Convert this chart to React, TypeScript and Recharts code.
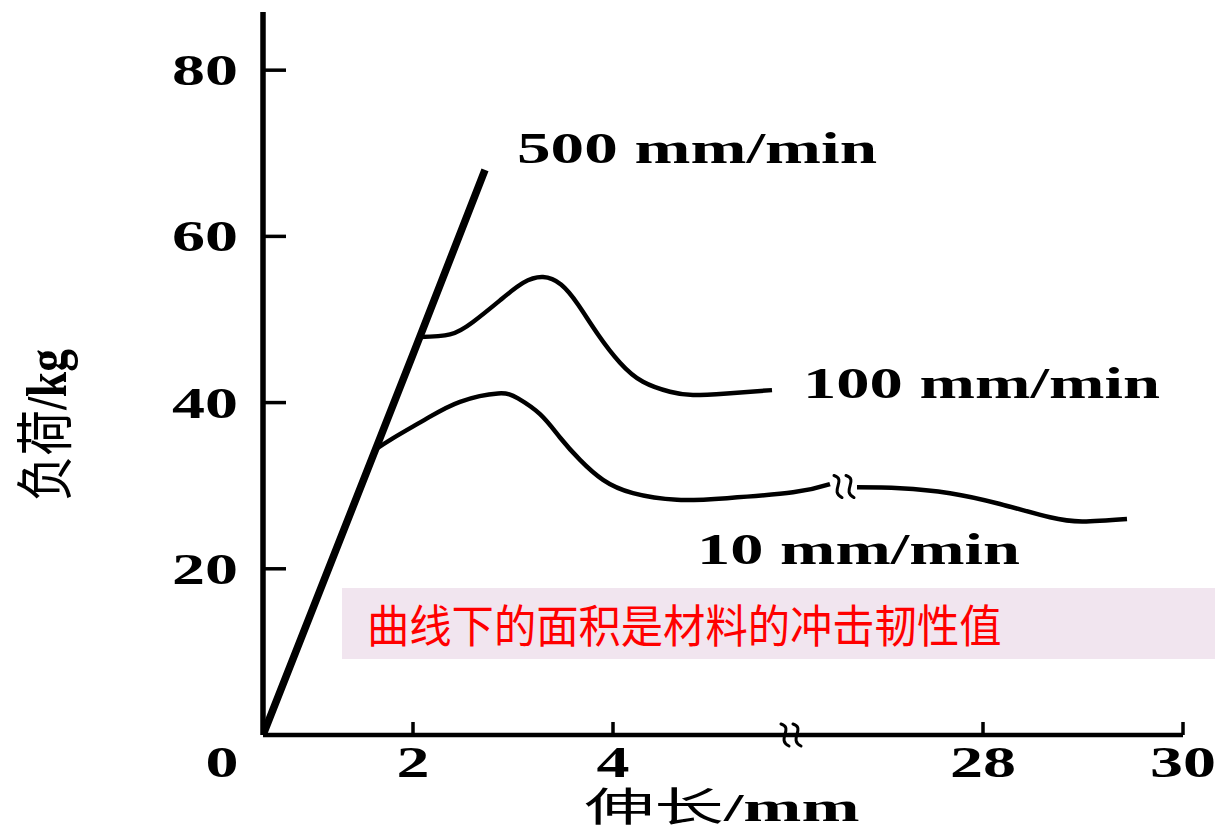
import React from 'react';
import { LineChart, Line, XAxis, YAxis, ReferenceDot } from 'recharts';

// ---------- data (elongation in mm, load in kg) ----------
const rate500X = [0, 2, 2.72];
const rate500Y = [0, 45.8, 68.0];

const rate100X = [2.07, 2.37, 2.6, 2.87, 3.1, 3.3, 3.48, 3.65, 3.85, 4.07, 4.3, 4.57, 4.8, 5.14, 5.59];
const rate100Y = [47.9, 48.2, 49.7, 52.3, 54.4, 55.1, 54.2, 51.8, 48.2, 44.8, 42.5, 41.3, 40.9, 41.1, 41.5];

const rate10AX = [1.49, 1.73, 2.14, 2.47, 2.85, 3.05, 3.27, 3.47, 3.67, 3.9, 4.2, 4.64, 5.14, 5.8, 6.17];
const rate10AY = [34.3, 35.7, 38.1, 40.1, 41.1, 40.5, 38.6, 35.8, 33.1, 30.7, 29.1, 28.3, 28.5, 29.2, 30.2];
const rate10BX = [26.74, 27.17, 27.67, 28.17, 28.67, 29.0, 29.44];
const rate10BY = [29.8, 29.7, 29.1, 27.8, 26.2, 25.7, 26.0];

const xTickValues = [0, 2, 4, 28, 30];
const xTickLabels = ['0', '2', '4', '28', '30'];
const yTickValues = [20, 40, 60, 80];
const yTickLabels = ['20', '40', '60', '80'];

const seriesNames = ['500 mm/min', '100 mm/min', '10 mm/min'];
const seriesLabelAt = [
  { x: 3.04, y: 68.8, len: 360 },
  { x: 5.9, y: 40.5, len: 357 },
  { x: 4.84, y: 20.6, len: 323 },
];
const xTitle = ['伸长', '/mm'];
const yTitle = ['负荷', '/kg'];
const note = '曲线下的面积是材料的冲击韧性值';

// ---------- broken x scale (0-2 | 2-~6 || 26-30) ----------
const BROKEN_SCALE = [
  { min: 0, anchor: 0, pos: 0, k: 75 },
  { min: 2, anchor: 2, pos: 150, k: 100 },
  { min: 20, anchor: 28, pos: 720, k: 100 },
];
const toPos = (x: number) => {
  let s = BROKEN_SCALE[0];
  for (const seg of BROKEN_SCALE) if (x >= seg.min) s = seg;
  return s.pos + (x - s.anchor) * s.k;
};
const toPoints = (xs: number[], ys: number[]) => xs.map((x, i) => ({ pos: toPos(x), load: ys[i] }));

const data500 = toPoints(rate500X, rate500Y);
const data100 = toPoints(rate100X, rate100Y);
const data10A = toPoints(rate10AX, rate10AY);
const data10B = toPoints(rate10BX, rate10BY);

const axisBreak = { x: 5.78, y: 0 };
const curveBreak = { x: 6.31, y: 29.9 };

const SERIF = '"Liberation Serif", "Times New Roman", serif';
const CJK = '"Noto Sans CJK SC", sans-serif';

const XTick = (props: any) => {
  const { x, y, payload } = props;
  const i = xTickValues.findIndex((v) => Math.abs(toPos(v) - payload.value) < 0.01);
  const label = i >= 0 ? xTickLabels[i] : '';
  const dx = label === '0' ? -41 : 0;
  return (
    <g>
      {label !== '0' && <line x1={x} y1={y} x2={x} y2={y - 13} stroke="#000" strokeWidth={3.5} />}
      <text
        x={x + dx}
        y={y + 42}
        textAnchor="middle"
        fontFamily={SERIF}
        fontWeight="bold"
        fontSize={44}
        textLength={label.length * 33}
        lengthAdjust="spacingAndGlyphs"
        fill="#000"
      >
        {label}
      </text>
    </g>
  );
};

const YTick = (props: any) => {
  const { x, y, payload } = props;
  const i = yTickValues.indexOf(payload.value);
  const label = i >= 0 ? yTickLabels[i] : '';
  return (
    <g>
      <line x1={x} y1={y} x2={x + 23} y2={y} stroke="#000" strokeWidth={3.5} />
      <text
        x={x - 25}
        y={y + 15}
        textAnchor="end"
        fontFamily={SERIF}
        fontWeight="bold"
        fontSize={44}
        textLength={label.length * 33}
        lengthAdjust="spacingAndGlyphs"
        fill="#000"
      >
        {label}
      </text>
    </g>
  );
};

const BreakMark = (props: any) => {
  const { cx, cy } = props;
  return (
    <g fill="none" stroke="#000" strokeWidth={3} strokeLinecap="round">
      {[-6, 6].map((dx) => (
        <path
          key={dx}
          d={`M${cx + dx - 4} ${cy - 11} C ${cx + dx + 9} ${cy - 7}, ${cx + dx - 9} ${cy + 5}, ${cx + dx + 4} ${cy + 11}`}
        />
      ))}
    </g>
  );
};

const seriesLabelShape = (idx: number) => (props: any) => {
  const { cx, cy } = props;
  return (
    <text
      x={cx}
      y={cy}
      fontFamily={SERIF}
      fontWeight="bold"
      fontSize={44}
      textLength={seriesLabelAt[idx].len}
      lengthAdjust="spacingAndGlyphs"
      fill="#000"
    >
      {seriesNames[idx]}
    </text>
  );
};

const XTitle = (props: any) => {
  const vb = props.viewBox || { x: 263, y: 735, width: 920 };
  return (
    <text
      x={vb.x + 459}
      y={821}
      textAnchor="middle"
      fontSize={40}
      textLength={275}
      lengthAdjust="spacingAndGlyphs"
      fill="#000"
    >
      <tspan fontFamily={CJK}>{xTitle[0]}</tspan>
      <tspan fontFamily={SERIF} fontWeight="bold">{xTitle[1]}</tspan>
    </text>
  );
};

const YTitle = () => (
  <g transform="translate(46,425) scale(1.45,1) rotate(-90)">
    <text
      x={0}
      y={14}
      textAnchor="middle"
      fontSize={40}
      textLength={152}
      lengthAdjust="spacingAndGlyphs"
      fill="#000"
    >
      <tspan fontFamily={CJK}>{yTitle[0]}</tspan>
      <tspan fontFamily={SERIF} fontWeight="bold">{yTitle[1]}</tspan>
    </text>
  </g>
);

export default function App() {
  return (
    <div style={{ position: 'absolute', left: 0, top: 0, width: 1215, height: 832, background: '#fff' }}>
      <LineChart width={1215} height={832} margin={{ top: 12, right: 32, bottom: 37, left: 163 }}>
        <XAxis
          xAxisId={0}
          dataKey="pos"
          type="number"
          domain={[0, 920]}
          ticks={xTickValues.map(toPos)}
          interval={0}
          height={60}
          tickSize={0}
          tickMargin={0}
          tick={<XTick />}
          axisLine={{ stroke: '#000', strokeWidth: 4.5 }}
          allowDataOverflow
          label={{ content: (p: any) => <XTitle {...p} /> }}
        />
        <YAxis
          yAxisId={0}
          type="number"
          domain={[0, 87]}
          ticks={yTickValues}
          interval={0}
          width={100}
          tickSize={0}
          tickMargin={0}
          tick={<YTick />}
          axisLine={{ stroke: '#000', strokeWidth: 5.5 }}
          allowDataOverflow
          label={{ content: () => <YTitle /> }}
        />
        <Line data={data10A} dataKey="load" type="natural" stroke="#000" strokeWidth={4.5} dot={false} activeDot={false} isAnimationActive={false} />
        <Line data={data10B} dataKey="load" type="natural" stroke="#000" strokeWidth={4.5} dot={false} activeDot={false} isAnimationActive={false} />
        <Line data={data100} dataKey="load" type="natural" stroke="#000" strokeWidth={4.5} dot={false} activeDot={false} isAnimationActive={false} />
        <Line data={data500} dataKey="load" type="linear" stroke="#000" strokeWidth={7.5} dot={false} activeDot={false} isAnimationActive={false} />
        <ReferenceDot x={toPos(axisBreak.x)} y={axisBreak.y} r={0} ifOverflow="visible" shape={<BreakMark />} />
        <ReferenceDot x={toPos(curveBreak.x)} y={curveBreak.y} r={0} ifOverflow="visible" shape={<BreakMark />} />
        {seriesLabelAt.map((s, i) => (
          <ReferenceDot key={i} x={toPos(s.x)} y={s.y} r={0} ifOverflow="visible" shape={seriesLabelShape(i)} />
        ))}
      </LineChart>
      <div
        style={{
          position: 'absolute',
          left: 342,
          top: 588,
          width: 873,
          height: 71,
          background: '#F1E5EF',
          color: '#FF0000',
          fontFamily: CJK,
          fontSize: 45,
          lineHeight: '71px',
          paddingLeft: 25,
          boxSizing: 'border-box',
          whiteSpace: 'nowrap',
          overflow: 'hidden',
        }}
      >
        <span style={{ display: 'inline-block', transform: 'scaleX(0.94)', transformOrigin: 'left center' }}>{note}</span>
      </div>
    </div>
  );
}
